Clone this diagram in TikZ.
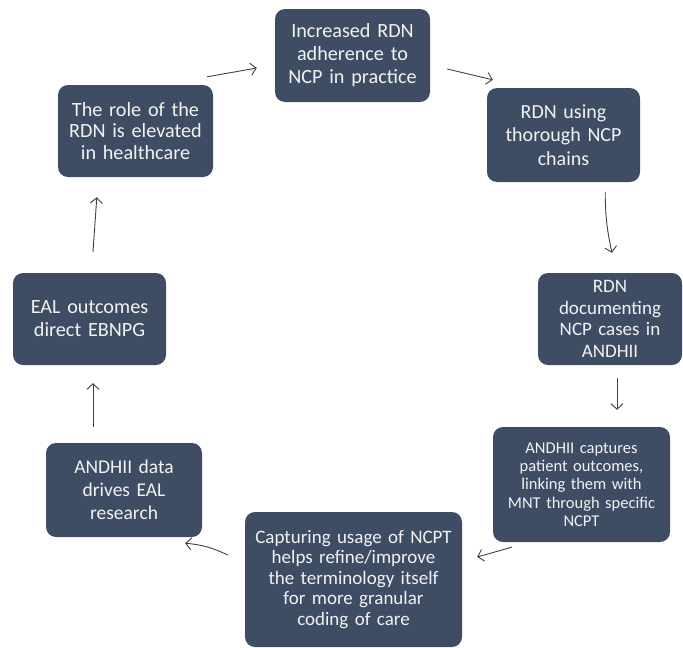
\documentclass[tikz,border=0pt]{standalone}
\usepackage{fontspec}
\setmainfont{Carlito}
\usetikzlibrary{arrows.meta}
\definecolor{slateblue}{RGB}{62,77,100}
\definecolor{pencil}{RGB}{64,64,64}
\tikzstyle{stage} = [rectangle, rounded corners=10pt, fill=slateblue,
    text=white!95!black, align=center, inner xsep=4pt, inner ysep=0pt]
\tikzstyle{line} = [draw, pencil, line width=0.9pt,
    -{Straight Barb[length=5.5pt,width=12pt]}]

\begin{document}
\begin{tikzpicture}[x=1pt, y=-1pt]

    \useasboundingbox (0,0) rectangle (683,648);

    \node [stage, minimum width=155pt, minimum height=93pt, text width=147pt,
        font=\fontsize{20.2}{23}\selectfont] (adherence) at (352.5,55.5)
        {Increased RDN\\adherence to\\NCP in practice};
    \node [stage, minimum width=153pt, minimum height=94pt, text width=145pt,
        font=\fontsize{20}{23.3}\selectfont] (chains) at (563.5,135)
        {RDN using\\thorough NCP\\chains};
    \node [stage, minimum width=144pt, minimum height=92pt, text width=136pt,
        font=\fontsize{19}{21.7}\selectfont] (documenting) at (610,319)
        {RDN\\documenting\\NCP cases in\\ANDHII};
    \node [stage, minimum width=177pt, minimum height=115pt, text width=169pt,
        font=\fontsize{16.5}{18.3}\selectfont] (captures) at (581.5,484.5)
        {ANDHII captures\\patient outcomes,\\linking them with\\MNT through specific\\NCPT};
    \node [stage, minimum width=217pt, minimum height=135pt, text width=209pt,
        font=\fontsize{19}{20.5}\selectfont] (refine) at (353.5,579.5)
        {Capturing usage of NCPT\\helps refine/improve\\the terminology itself\\for more granular\\coding of care};
    \node [stage, minimum width=156pt, minimum height=94pt, text width=148pt,
        font=\fontsize{19.5}{23}\selectfont] (drives) at (124,490)
        {ANDHII data\\drives EAL\\research};
    \node [stage, minimum width=153pt, minimum height=92pt, text width=145pt,
        font=\fontsize{20.2}{23}\selectfont] (direct) at (89.5,319)
        {EAL outcomes\\direct EBNPG\\[10pt]};
    \node [stage, minimum width=155pt, minimum height=92pt, text width=147pt,
        font=\fontsize{20.2}{21.7}\selectfont] (elevated) at (135.5,131)
        {The role of the\\RDN is elevated\\in healthcare};

    % hand drawn arrows round the cycle
    \path [line] ([xshift=-6pt, yshift=8pt]elevated.north east)
        -- ([xshift=-18pt, yshift=-12.5pt]adherence.west);
    \path [line] ([xshift=17pt, yshift=-13.5pt]adherence.east)
        -- ([xshift=6pt, yshift=8pt]chains.north west);
    \path [line] ([xshift=-35pt, yshift=-10pt]chains.south east)
        to [bend right=6] ([xshift=2pt, yshift=20pt]documenting.north);
    \path [line] ([xshift=7pt, yshift=-13pt]documenting.south)
        -- ([xshift=35.5pt, yshift=17pt]captures.north);
    \path [line] ([xshift=19pt, yshift=-5pt]captures.south west)
        -- ([xshift=15pt, yshift=22.5pt]refine.east);
    \path [line] ([xshift=-17pt, yshift=24.5pt]refine.west)
        to [bend right=10] ([xshift=-17pt, yshift=-6pt]drives.south east);
    \path [line] ([xshift=-31pt, yshift=16pt]drives.north)
        -- ([xshift=3.5pt, yshift=-18pt]direct.south);
    \path [line] ([xshift=3.5pt, yshift=21pt]direct.north)
        -- ([xshift=39pt, yshift=-20pt]elevated.south west);

\end{tikzpicture}
\end{document}
